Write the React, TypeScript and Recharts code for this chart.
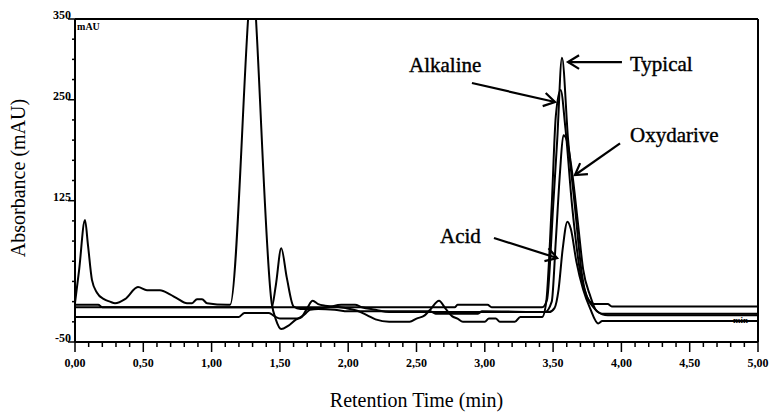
import { LineChart, Line, XAxis, YAxis, ReferenceLine, ReferenceDot } from "recharts";

type Pt = [number, number];

// retention time (min), absorbance (mAU)
const typical: Pt[] = [
  [0, -7], [2.78, -7], [2.8, -4], [3.02, -4], [3.05, -7], [3.42, -7], [3.455, 2],
  [3.5, 117], [3.53, 200], [3.565, 302], [3.61, 200], [3.66, 117], [3.71, 35],
  [3.75, 5], [3.8, -3], [3.9, -3], [3.93, -6], [5, -6],
];

const alkaline: Pt[] = [
  [0, -2], [0.03, 39], [0.073, 101], [0.095, 70], [0.124, 27], [0.161, 11], [0.212, 3],
  [0.256, 0], [0.293, -2], [0.366, 3], [0.461, 18], [0.527, 14], [0.622, 14], [0.695, 9],
  [0.747, 4], [0.82, -2], [0.857, -2], [0.893, 3], [0.93, 3], [0.967, -2], [1.113, -4],
  [1.135, -4], [1.267, 350], [1.298, 432], [1.325, 350], [1.44, -2], [1.47, -22],
  [1.51, -34], [1.56, -30], [1.62, -22], [1.66, -19], [1.7, -8], [1.74, 1], [1.78, -3],
  [1.83, -5], [1.9, -6], [1.98, -8], [2.06, -11], [2.14, -17], [2.2, -22], [2.3, -25],
  [2.45, -25], [2.5, -21], [2.56, -17], [2.6, -10], [2.665, 1], [2.71, -8], [2.76, -18],
  [2.8, -21], [2.84, -25], [3.0, -25], [3.03, -21], [3.08, -21], [3.11, -25], [3.22, -25],
  [3.26, -19], [3.42, -19], [3.45, 0], [3.49, 120], [3.52, 230], [3.555, 262], [3.59, 215],
  [3.64, 117], [3.7, 35], [3.75, 5], [3.8, -8], [3.86, -15], [5, -15],
];

const oxydarive: Pt[] = [
  [0, -4], [0.17, -4], [0.2, -7], [1.44, -7], [1.47, 20], [1.51, 66], [1.55, 30],
  [1.6, -6], [1.65, -9], [1.75, -9], [1.85, -7], [1.95, -4], [2.05, -4], [2.1, -7],
  [2.2, -10], [2.3, -13], [3.44, -13], [3.49, 0], [3.52, 76], [3.55, 159], [3.575, 206],
  [3.6, 200], [3.64, 159], [3.68, 100], [3.72, 40], [3.77, 8], [3.82, -12], [3.9, -17],
  [5, -17],
];

const acid: Pt[] = [
  [0, -19], [1.2, -19], [1.24, -14], [1.42, -14], [1.46, -18], [1.5, -21], [1.62, -21],
  [1.68, -16], [1.72, -10], [1.78, -9], [1.9, -10], [2.0, -12], [2.6, -12], [2.64, -15],
  [2.95, -15], [2.98, -12], [3.47, -13], [3.51, -8], [3.54, 15], [3.57, 65], [3.605, 99],
  [3.63, 90], [3.67, 50], [3.72, 15], [3.77, -8], [3.83, -27], [3.86, -24], [5, -24],
];

const xMajorLabels = ["0,00", "0,50", "1,00", "1,50", "2,00", "2,50", "3,00", "3,50", "4,00", "4,50", "5,00"];
const xTicks = Array.from({ length: 51 }, (_, i) => i / 10);
const yTicks = [-50, -25, 0, 25, 50, 75, 100, 125, 150, 175, 200, 225, 250, 275, 300, 325, 350];
const yLabelled = [-50, 125, 250, 350];

const annotations = [
  { name: "Typical", text: [4.063, 285.6], tail: [4.004, 296.7], tip: [3.609, 296.7] },
  { name: "Alkaline", text: [2.445, 284.4], tail: [2.906, 270.7], tip: [3.514, 247.2] },
  { name: "Oxydarive", text: [4.063, 197.7], tail: [3.99, 196], tip: [3.66, 156.8] },
  { name: "Acid", text: [2.672, 72.6], tail: [3.067, 78.8], tip: [3.529, 54.0] },
];

const serif = "'Liberation Serif', 'Times New Roman', serif";
const rows = (pts: Pt[]) => pts.map(([t, v]) => ({ t, v }));

function XTick({ x, y, payload }: any) {
  const v = payload.value;
  const major = Math.abs(v * 2 - Math.round(v * 2)) < 1e-6;
  return (
    <g>
      <line x1={x} x2={x} y1={y} y2={y + (major ? 10 : 5)} stroke="#000" strokeWidth={1.5} />
      {major && (
        <text x={x} y={y + 25} textAnchor="middle" fontSize={12} fontWeight="bold" fontFamily={serif}>
          {xMajorLabels[Math.round(v * 2)]}
        </text>
      )}
    </g>
  );
}

function YTick({ x, y, payload }: any) {
  const major = yLabelled.includes(payload.value);
  return (
    <g>
      <line x1={x - (major ? 7 : 3)} x2={x} y1={y} y2={y} stroke="#000" strokeWidth={1.5} />
      {major && (
        <text x={x - 4} y={y} textAnchor="end" fontSize={12} fontWeight="bold" fontFamily={serif}>
          {payload.value}
        </text>
      )}
    </g>
  );
}

function Arrow({ x1, y1, x2, y2 }: any) {
  const ang = Math.atan2(y2 - y1, x2 - x1);
  const L = 13;
  const a = 0.55;
  const h1 = [x2 - L * Math.cos(ang - a), y2 - L * Math.sin(ang - a)];
  const h2 = [x2 - L * Math.cos(ang + a), y2 - L * Math.sin(ang + a)];
  return (
    <g stroke="#000" strokeWidth={2.2} fill="none">
      <line x1={x1} y1={y1} x2={x2} y2={y2} />
      <polyline points={`${h1[0]},${h1[1]} ${x2},${y2} ${h2[0]},${h2[1]}`} />
    </g>
  );
}

const textShape = (label: string, size: number, bold: boolean) => (p: any) => (
  <text
    x={p.cx}
    y={p.cy}
    fontSize={size}
    fontWeight={bold ? "bold" : "normal"}
    fontFamily={serif}
    fill="#000"
    stroke={bold ? "none" : "#000"}
    strokeWidth={0.4}
  >
    {label}
  </text>
);

export default function App() {
  const series = [typical, alkaline, oxydarive, acid];
  return (
    <div style={{ position: "absolute", left: 0, top: 0, background: "#fff" }}>
      <LineChart width={775} height={415} margin={{ top: 19, right: 17, bottom: 0, left: 0 }}>
        <XAxis
          type="number"
          dataKey="t"
          domain={[0, 5]}
          ticks={xTicks}
          interval={0}
          tick={<XTick />}
          tickLine={false}
          tickSize={0}
          tickMargin={0}
          height={73}
          axisLine={{ stroke: "#000", strokeWidth: 2 }}
          label={{
            content: ({ viewBox }: any) => (
              <text x={viewBox.x + viewBox.width / 2} y={viewBox.y + 65} textAnchor="middle" fontSize={20} fontFamily={serif}>
                Retention Time (min)
              </text>
            ),
          }}
        />
        <YAxis
          type="number"
          domain={[-50, 350]}
          allowDataOverflow
          ticks={yTicks}
          interval={0}
          tick={<YTick />}
          tickLine={false}
          tickSize={0}
          tickMargin={0}
          width={75}
          axisLine={{ stroke: "#000", strokeWidth: 2 }}
          label={{
            content: () => (
              <text x={25} y={178} transform="rotate(-90 25 178)" textAnchor="middle" fontSize={20} fontFamily={serif}>
                Absorbance (mAU)
              </text>
            ),
          }}
        />
        <ReferenceLine y={350} stroke="#000" strokeWidth={2} />
        <ReferenceLine x={5} stroke="#000" strokeWidth={2} />
        {series.map((s, i) => (
          <Line
            key={i}
            data={rows(s)}
            dataKey="v"
            type="monotone"
            stroke="#000"
            strokeWidth={2}
            dot={false}
            activeDot={false}
            isAnimationActive={false}
          />
        ))}
        {annotations.map((a) => (
          <ReferenceLine
            key={a.name + "-arrow"}
            segment={[{ x: a.tail[0], y: a.tail[1] }, { x: a.tip[0], y: a.tip[1] }]}
            shape={<Arrow />}
          />
        ))}
        {annotations.map((a) => (
          <ReferenceDot key={a.name} x={a.text[0]} y={a.text[1]} r={0} shape={textShape(a.name, 21, false)} />
        ))}
        <ReferenceDot x={0.015} y={336.4} r={0} shape={textShape("mAU", 10, true)} />
        <ReferenceDot x={4.817} y={-26.5} r={0} shape={textShape("min", 9, true)} />
      </LineChart>
    </div>
  );
}
